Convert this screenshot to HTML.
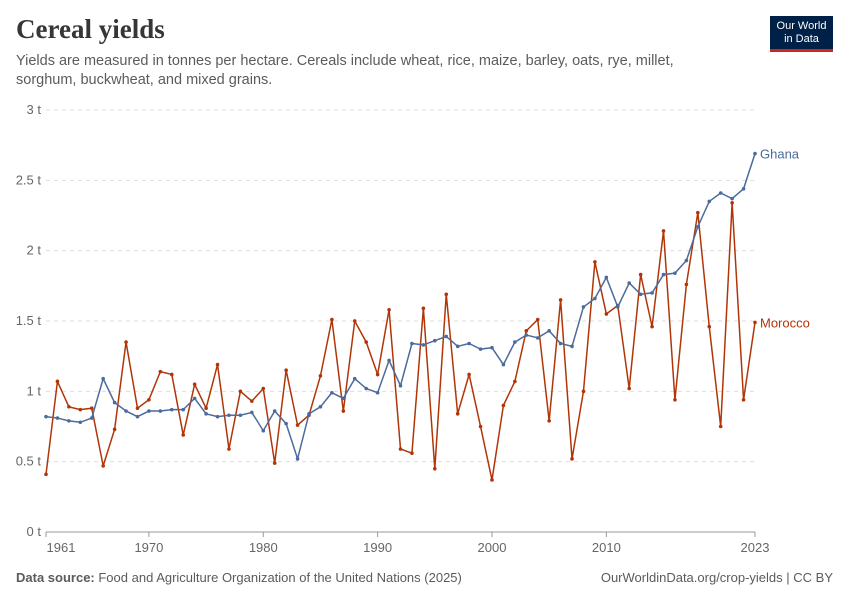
<!DOCTYPE html>
<html><head><meta charset="utf-8"><style>
body{margin:0;background:#fff;font-family:"Liberation Sans",sans-serif;}
#c{position:relative;width:850px;height:600px;overflow:hidden}
</style></head><body>
<div id="c">
<div style="position:absolute;left:16px;top:14px;font-family:'Liberation Serif',serif;font-size:27px;font-weight:bold;color:#363636">Cereal yields</div>
<div style="position:absolute;left:16px;top:52px;width:700px;font-size:14.5px;line-height:19px;color:#5b5b5b">Yields are measured in tonnes per hectare. Cereals include wheat, rice, maize, barley, oats, rye, millet, sorghum, buckwheat, and mixed grains.</div>
<div style="position:absolute;left:770px;top:16px;width:63px;height:36px;background:#002147;border-bottom:3px solid #ce261e;box-sizing:border-box;color:#fff;font-size:11px;line-height:13px;text-align:center;padding-top:4px">Our World<br>in Data</div>
<svg id="s" width="850" height="600" style="position:absolute;left:0;top:0"></svg>
<div style="position:absolute;left:16px;top:570px;font-size:13px;color:#5b5b5b"><b>Data source:</b> Food and Agriculture Organization of the United Nations (2025)</div>
<div style="position:absolute;right:17px;top:570px;font-size:13px;color:#5b5b5b">OurWorldinData.org/crop-yields | CC BY</div>
</div>
<script>
const startYear=1961;
const ghana=[0.82,0.81,0.79,0.78,0.81,1.09,0.92,0.86,0.82,0.86,0.86,0.87,0.87,0.95,0.84,0.82,0.83,0.83,0.85,0.72,0.86,0.77,0.52,0.84,0.89,0.99,0.95,1.09,1.02,0.99,1.22,1.04,1.34,1.33,1.36,1.39,1.32,1.34,1.30,1.31,1.19,1.35,1.40,1.38,1.43,1.34,1.32,1.60,1.66,1.81,1.60,1.77,1.69,1.70,1.83,1.84,1.93,2.17,2.35,2.41,2.37,2.44,2.69];
const morocco=[0.41,1.07,0.89,0.87,0.88,0.47,0.73,1.35,0.88,0.94,1.14,1.12,0.69,1.05,0.88,1.19,0.59,1.00,0.93,1.02,0.49,1.15,0.76,0.83,1.11,1.51,0.86,1.50,1.35,1.12,1.58,0.59,0.56,1.59,0.45,1.69,0.84,1.12,0.75,0.37,0.90,1.07,1.43,1.51,0.79,1.65,0.52,1.00,1.92,1.55,1.61,1.02,1.83,1.46,2.14,0.94,1.76,2.27,1.46,0.75,2.34,0.94,1.49];
const yTicks=[0,0.5,1,1.5,2,2.5,3];
const yTickLabels=["0 t","0.5 t","1 t","1.5 t","2 t","2.5 t","3 t"];
const xTicks=[1961,1970,1980,1990,2000,2010,2023];
const NS="http://www.w3.org/2000/svg",svg=document.getElementById('s');
const X=y=>46+(y-1961)*(755-46)/62, Y=v=>532-v*(532-110)/3;
function el(t,a){const e=document.createElementNS(NS,t);for(const k in a)e.setAttribute(k,a[k]);svg.appendChild(e);return e;}
yTicks.forEach((v,i)=>{
 const l=el('line',{x1:46,x2:755,y1:Y(v),y2:Y(v),stroke:v===0?'#999':'#ddd','stroke-dasharray':v===0?'':'4,4'});
 
 
 const t=el('text',{x:41,y:Y(v)+4,'text-anchor':'end','font-size':13,fill:'#666','font-family':'Liberation Sans'});
 t.textContent=yTickLabels[i];
 
 
});
xTicks.forEach(y=>{
 const l=el('line',{x1:X(y),x2:X(y),y1:532,y2:537,stroke:'#999'});
 
 
 const t=el('text',{x:X(y)+(y===1961?15:0),y:552,'text-anchor':'middle','font-size':13,fill:'#666','font-family':'Liberation Sans'});
 t.textContent=y;
 
 
});
function series(d,col,name,label){
 const p=el('polyline',{points:d.map((v,i)=>X(startYear+i)+','+Y(v)).join(' '),fill:'none',stroke:col,'stroke-width':1.5});
 
 
 d.forEach((v,i)=>{const c=el('circle',{cx:X(startYear+i),cy:Y(v),r:1.8,fill:col});
  
  });
 const t=el('text',{x:760,y:Y(d[d.length-1])+5,'font-size':13,fill:col,'font-family':'Liberation Sans'});
 t.textContent=label;
 
 
}
series(morocco,'#b13507','morocco','Morocco');
series(ghana,'#4c6a9c','ghana','Ghana');
</script>
</body></html>
